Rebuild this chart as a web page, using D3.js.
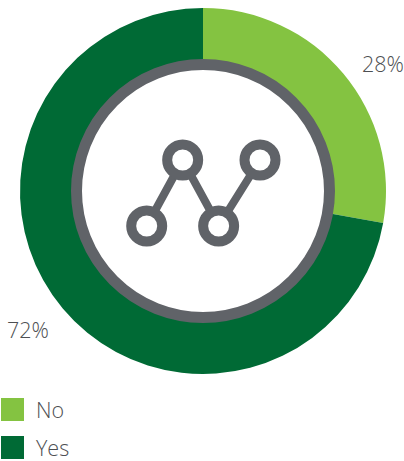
<!DOCTYPE html>
<html>
<head>
<meta charset="utf-8">
<script src="https://cdn.jsdelivr.net/npm/d3@7"></script>
<style>
  html, body { margin: 0; padding: 0; background: #fff; }
  text { font-family: "Open Sans", sans-serif; font-size: 21.5px; font-weight: 300; fill: #4d4f52; }
</style>
</head>
<body>
<svg id="chart" width="404" height="461"></svg>
<script>
const categories = ["No", "Yes"];
const values = [27.8, 72.2];
const valueLabels = ["28%", "72%"];
const colors = ["#84c341", "#006a35"];

// icon nodes, in the icon's own units
const iconX = [0, 1, 2, 3.15];
const iconY = [0, 1, 0, 1];

const svg = d3.select("#chart");
const cx = 203, cy = 191;

const pie = d3.pie().sort(null).value(d => d)(values);
const arc = d3.arc().innerRadius(122).outerRadius(183);

const ring = svg.append("g").attr("transform", `translate(${cx},${cy})`);

ring.selectAll("path.slice")
    .data(pie)
    .enter()
    .append("path")
    .attr("class", "slice")
    .attr("d", arc)
    .style("fill", (d, i) => colors[i]);

ring.append("circle")
    .attr("r", 126.5)
    .style("fill", "#fff")
    .style("stroke", "#606368")
    .style("stroke-width", 11);

// little line chart icon in the middle
const x = d3.scaleLinear().domain([0, 3.15]).range([146.7, 260]);
const y = d3.scaleLinear().domain([0, 1]).range([226, 160]);
const points = iconX.map((d, i) => ({ x: d, y: iconY[i] }));

svg.append("path")
    .datum(points)
    .attr("d", d3.line().x(d => x(d.x)).y(d => y(d.y)))
    .style("fill", "none")
    .style("stroke", "#606368")
    .style("stroke-width", 8);

svg.selectAll("circle.node")
    .data(points)
    .enter()
    .append("circle")
    .attr("class", "node")
    .attr("cx", d => x(d.x))
    .attr("cy", d => y(d.y))
    .attr("r", 15.5)
    .style("fill", "#fff")
    .style("stroke", "#606368")
    .style("stroke-width", 10);

// value labels
svg.append("text").attr("x", 362).attr("y", 72).text(valueLabels[0]);
svg.append("text").attr("x", 7).attr("y", 338).text(valueLabels[1]);

// legend
const legendY = d3.scalePoint().domain(categories).range([410, 448]);

svg.selectAll("rect.legend")
    .data(categories)
    .enter()
    .append("rect")
    .attr("class", "legend")
    .attr("x", 1)
    .attr("y", d => legendY(d) - 12)
    .attr("width", 23)
    .attr("height", 23)
    .style("fill", (d, i) => colors[i]);

svg.selectAll("text.legend-label")
    .data(categories)
    .enter()
    .append("text")
    .attr("class", "legend-label")
    .attr("x", 36)
    .attr("y", d => legendY(d) + 8)
    .text(d => d);
</script>
</body>
</html>
